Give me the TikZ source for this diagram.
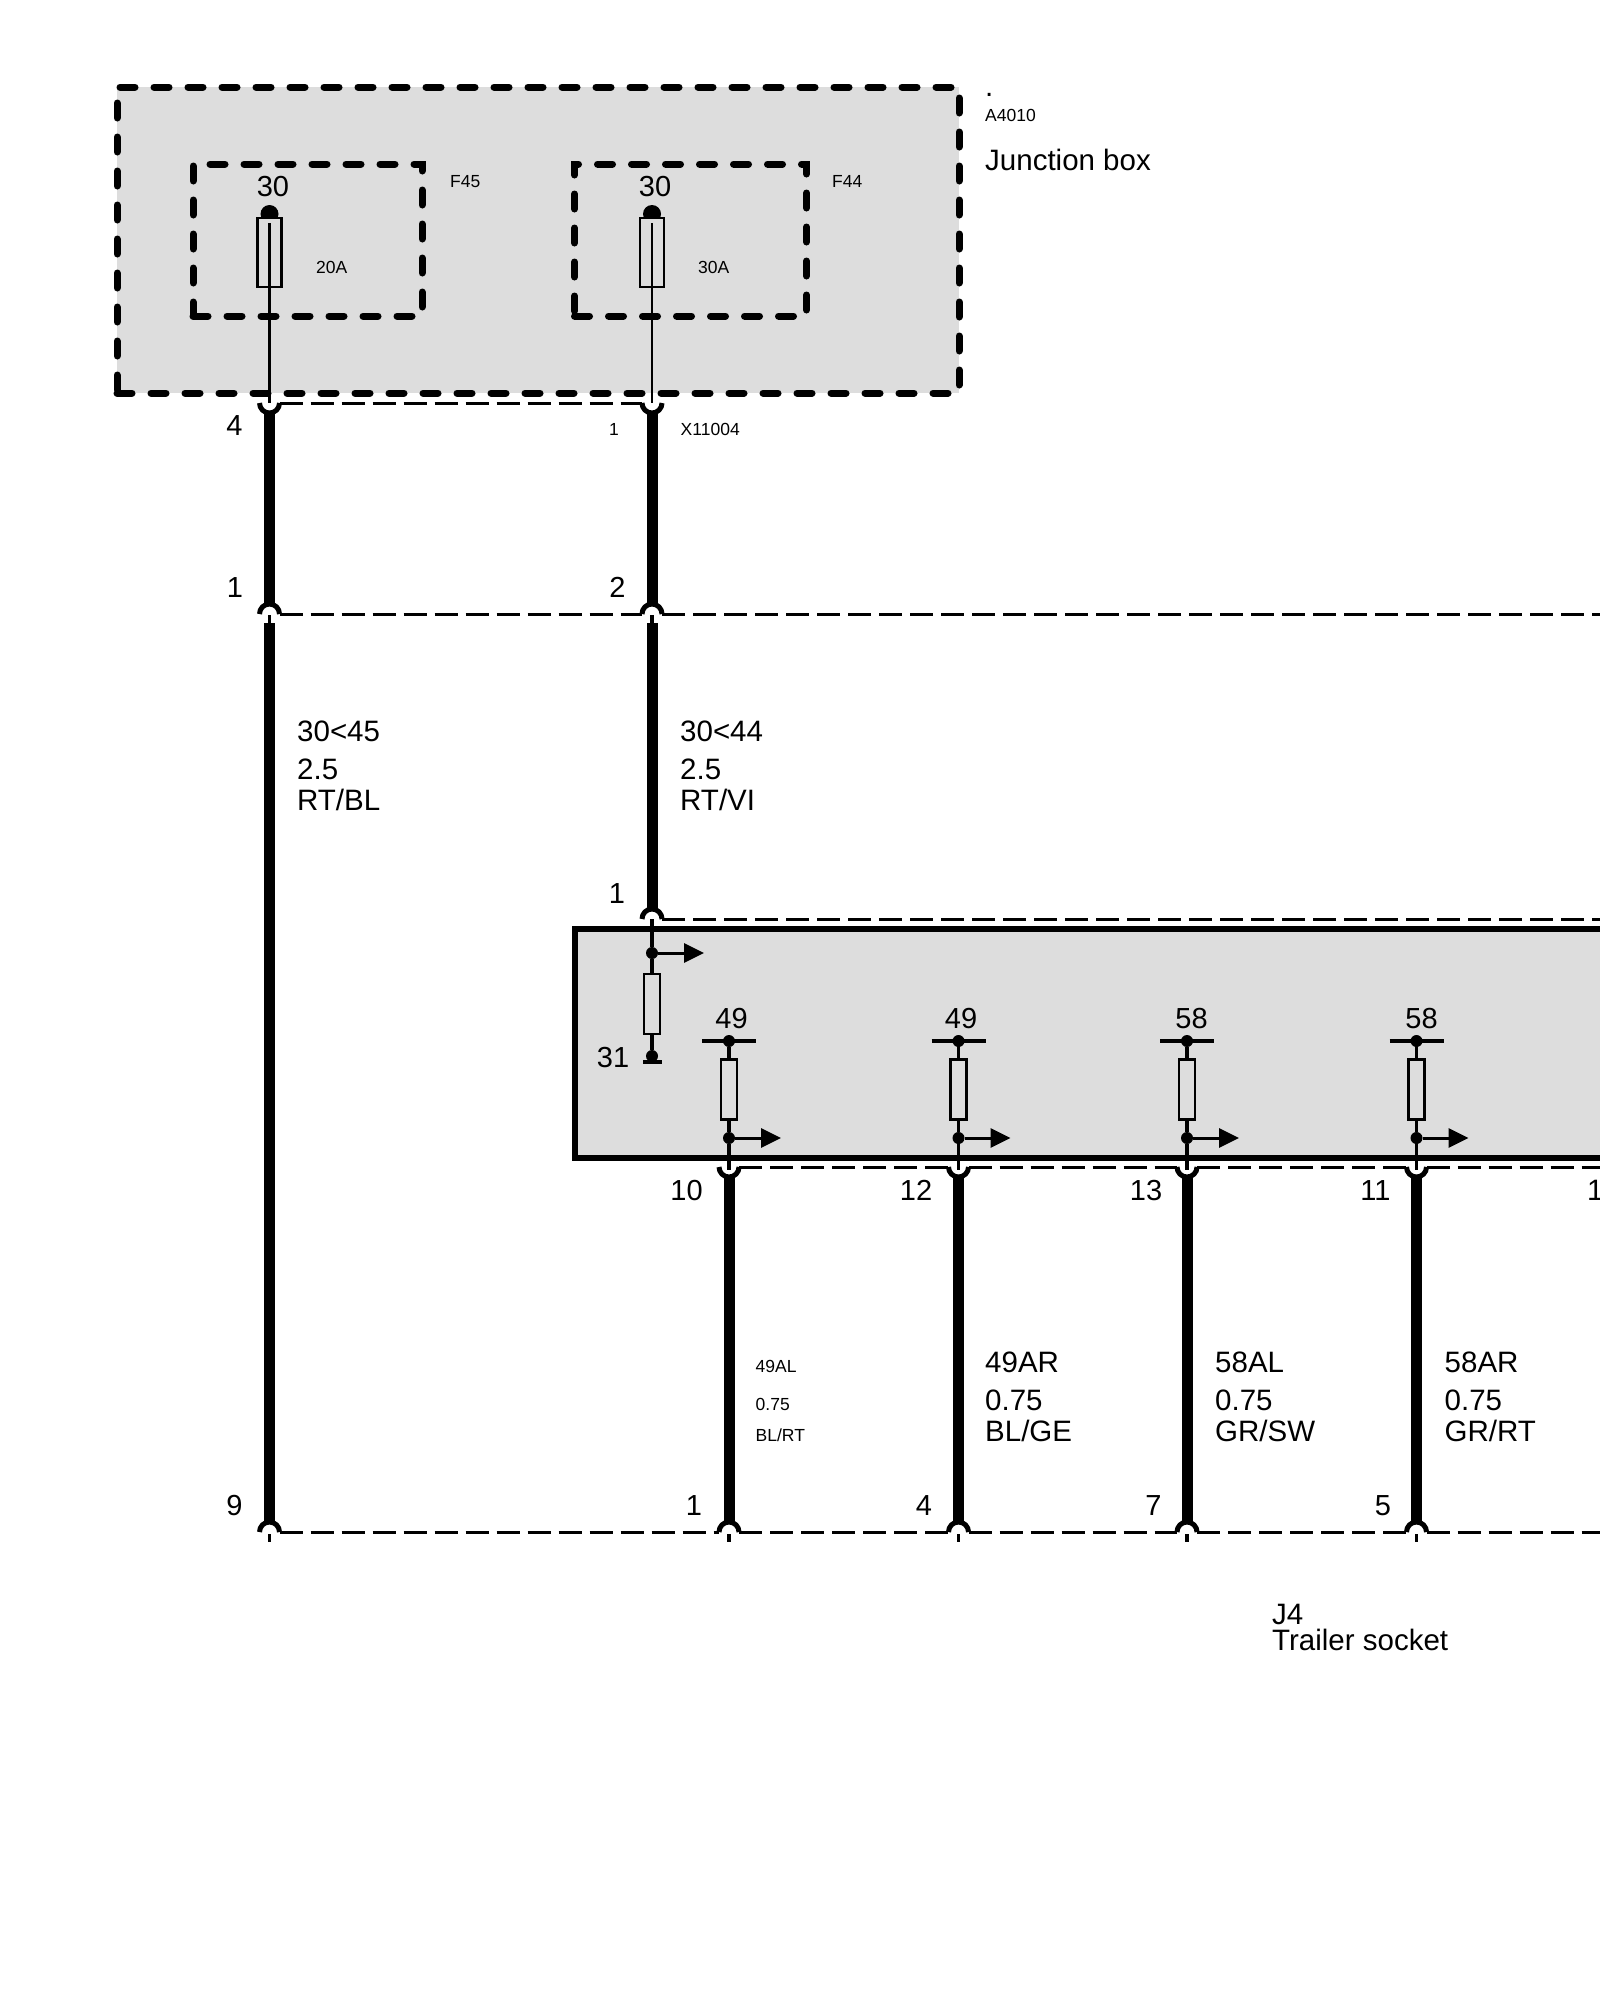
\documentclass[tikz,border=0pt]{standalone}
\usepackage{fontspec}
\setmainfont{Liberation Sans}
\usetikzlibrary{arrows.meta}
\definecolor{boxgray}{HTML}{DDDDDD}
\tikzset{
  cup/.pic={\draw[line width=5pt] (-10pt,0pt) arc[start angle=180,end angle=360,radius=10pt];},
  arch/.pic={\draw[line width=5pt] (-10pt,0pt) arc[start angle=180,end angle=0,radius=10pt];}
}

\begin{document}
\begin{tikzpicture}[x=1pt,y=-1pt]
    \tikzstyle{dashbox}=[draw, line width=7pt, fill=boxgray, dash pattern=on 15pt off 19pt, line cap=round, inner sep=0, outer sep=0]
    \tikzstyle{fusebox}=[draw, line width=7pt, dash pattern=on 15pt off 19pt, line cap=round, inner sep=0, outer sep=0]
    \tikzstyle{module}=[draw, line width=6pt, fill=boxgray, inner sep=0, outer sep=0]
    \tikzstyle{fuse}=[draw, line width=2.4pt, fill=boxgray, minimum width=24pt, minimum height=69pt, inner sep=0, outer sep=0]
    \tikzstyle{res}=[draw, line width=2.6pt, minimum width=16pt, minimum height=60pt, inner sep=0, outer sep=0]
    \tikzstyle{dot}=[circle, fill=black, minimum size=12pt, inner sep=0, outer sep=0]
    \tikzstyle{fusecap}=[circle, fill=black, minimum size=18pt, inner sep=0, outer sep=0]
    \tikzstyle{wire}=[line width=11pt]
    \tikzstyle{lead}=[line width=2.5pt]
    \tikzstyle{pinlead}=[line width=3.2pt]
    \tikzstyle{plug}=[line width=3pt, dash pattern=on 23pt off 8pt]
    \tikzstyle{outarrow}=[line width=3pt, -{Triangle[length=20pt,width=19pt]}]
    \tikzstyle{big}=[font=\fontsize{29.5}{29.5}\selectfont, inner sep=0, anchor=base west]
    \tikzstyle{small}=[font=\fontsize{17.5}{17.5}\selectfont, inner sep=0, anchor=base west]
    \tikzstyle{num}=[font=\fontsize{29}{29}\selectfont, inner sep=0, anchor=base]
    \tikzstyle{smallnum}=[font=\fontsize{17.5}{17.5}\selectfont, inner sep=0, anchor=base]

    \useasboundingbox (0,0) rectangle (1600,2000);

    % boxes
    \node[dashbox, minimum width=842pt, minimum height=306pt] (a4010) at (538,240) {};
    \node[fusebox, minimum width=229pt, minimum height=152pt] (boxf45) at (307.5,240) {};
    \node[fusebox, minimum width=232pt, minimum height=152pt] (boxf44) at (690.5,240) {};
    \node[module, minimum width=1045pt, minimum height=229pt] (ecu) at (1097.5,1043.5) {};

    % pins
    \coordinate (p4) at (269.5,403);
    \coordinate (p1) at (652,403);
    \coordinate (q1) at (269.5,614);
    \coordinate (q2) at (652,614);
    \coordinate (qend) at (1600,614);
    \coordinate (m1) at (652,919);
    \coordinate (mend) at (1600,919);
    \coordinate (p10) at (729,1167);
    \coordinate (p12) at (958.5,1167);
    \coordinate (p13) at (1187,1167);
    \coordinate (p11) at (1416.5,1167);
    \coordinate (pend) at (1600,1167);
    \coordinate (j9) at (269.5,1532);
    \coordinate (j1) at (729,1532);
    \coordinate (j4) at (958.5,1532);
    \coordinate (j7) at (1187,1532);
    \coordinate (j5) at (1416.5,1532);
    \coordinate (jend) at (1600,1532);

    % fuses
    \node[fusecap] (c45) at (269.5,214) {};
    \node[fusecap] (c44) at (652,214) {};
    \node[fuse] (f45) at (269.5,252.5) {};
    \node[fuse] (f44) at (652,252.5) {};
    \draw[lead] (c45) -- (p4);
    \draw[lead] (c44) -- (p1);

    % module inside
    \node[dot] (d1) at (652,953) {};
    \node[res] (r1) at (652,1004) {};
    \node[dot] (g1) at (652,1056) {};
    \coordinate (o1) at (704,953);
    \draw[pinlead] (m1) -- (d1) -- (r1.north);
    \draw[pinlead] (r1.south) -- (g1);
    \draw[pinlead] ([xshift=-9pt,yshift=-6pt]g1.center) -- ([xshift=10pt,yshift=-6pt]g1.center);
    \draw[outarrow] (d1) -- (o1);

    \node[dot] (t10) at (729,1041) {};
    \node[res] (r10) at (729,1089.5) {};
    \node[dot] (d10) at (729,1138) {};
    \coordinate (o10) at (781,1138);
    \draw[pinlead] ([xshift=-27pt]t10.center) -- ([xshift=27pt]t10.center);
    \draw[pinlead] (t10) -- (r10.north);
    \draw[pinlead] (r10.south) -- (d10) -- ([yshift=-3pt]p10);
    \draw[outarrow] (d10) -- (o10);

    \node[dot] (t12) at (958.5,1041) {};
    \node[res] (r12) at (958.5,1089.5) {};
    \node[dot] (d12) at (958.5,1138) {};
    \coordinate (o12) at (1010.5,1138);
    \draw[pinlead] ([xshift=-27pt]t12.center) -- ([xshift=27pt]t12.center);
    \draw[pinlead] (t12) -- (r12.north);
    \draw[pinlead] (r12.south) -- (d12) -- ([yshift=-3pt]p12);
    \draw[outarrow] (d12) -- (o12);

    \node[dot] (t13) at (1187,1041) {};
    \node[res] (r13) at (1187,1089.5) {};
    \node[dot] (d13) at (1187,1138) {};
    \coordinate (o13) at (1239,1138);
    \draw[pinlead] ([xshift=-27pt]t13.center) -- ([xshift=27pt]t13.center);
    \draw[pinlead] (t13) -- (r13.north);
    \draw[pinlead] (r13.south) -- (d13) -- ([yshift=-3pt]p13);
    \draw[outarrow] (d13) -- (o13);

    \node[dot] (t11) at (1416.5,1041) {};
    \node[res] (r11) at (1416.5,1089.5) {};
    \node[dot] (d11) at (1416.5,1138) {};
    \coordinate (o11) at (1468.5,1138);
    \draw[pinlead] ([xshift=-27pt]t11.center) -- ([xshift=27pt]t11.center);
    \draw[pinlead] (t11) -- (r11.north);
    \draw[pinlead] (r11.south) -- (d11) -- ([yshift=-3pt]p11);
    \draw[outarrow] (d11) -- (o11);

    % plugs
    \pic at (p4) {cup};
    \pic at (p1) {cup};
    \pic at (q1) {arch};
    \pic at (q2) {arch};
    \pic at (m1) {arch};
    \pic at (p10) {cup};
    \pic at (p12) {cup};
    \pic at (p13) {cup};
    \pic at (p11) {cup};
    \pic at (j9) {arch};
    \pic at (j1) {arch};
    \pic at (j4) {arch};
    \pic at (j7) {arch};
    \pic at (j5) {arch};
    \draw[plug] ([xshift=10pt]p4) -- ([xshift=-10pt]p1);
    \draw[plug] ([xshift=10pt]q1) -- ([xshift=-10pt]q2);
    \draw[plug] ([xshift=10pt]q2) -- (qend);
    \draw[plug] ([xshift=10pt]m1) -- (mend);
    \draw[plug] ([xshift=10pt]p10) -- ([xshift=-10pt]p12);
    \draw[plug] ([xshift=10pt]p12) -- ([xshift=-10pt]p13);
    \draw[plug] ([xshift=10pt]p13) -- ([xshift=-10pt]p11);
    \draw[plug] ([xshift=10pt]p11) -- (pend);
    \draw[plug] ([xshift=10pt]j9) -- ([xshift=-10pt]j1);
    \draw[plug] ([xshift=10pt]j1) -- ([xshift=-10pt]j4);
    \draw[plug] ([xshift=10pt]j4) -- ([xshift=-10pt]j7);
    \draw[plug] ([xshift=10pt]j7) -- ([xshift=-10pt]j5);
    \draw[plug] ([xshift=10pt]j5) -- (jend);

    % wires
    \draw[wire] ([yshift=-9pt]p4) -- ([yshift=9pt]q1);
    \draw[wire] ([yshift=-9pt]p1) -- ([yshift=9pt]q2);
    \draw[pinlead] ([yshift=-1pt]q1) -- ([yshift=-10pt]q1);
    \draw[pinlead] ([yshift=-1pt]q2) -- ([yshift=-10pt]q2);
    \draw[wire] ([yshift=-9pt]q1) -- ([yshift=9pt]j9);
    \draw[wire] ([yshift=-9pt]q2) -- ([yshift=9pt]m1);
    \draw[wire] ([yshift=-9pt]p10) -- ([yshift=9pt]j1);
    \draw[wire] ([yshift=-9pt]p12) -- ([yshift=9pt]j4);
    \draw[wire] ([yshift=-9pt]p13) -- ([yshift=9pt]j7);
    \draw[wire] ([yshift=-9pt]p11) -- ([yshift=9pt]j5);
    \draw[pinlead] ([yshift=-2pt]j9) -- ([yshift=-10pt]j9);
    \draw[pinlead] ([yshift=-2pt]j1) -- ([yshift=-10pt]j1);
    \draw[pinlead] ([yshift=-2pt]j4) -- ([yshift=-10pt]j4);
    \draw[pinlead] ([yshift=-2pt]j7) -- ([yshift=-10pt]j7);
    \draw[pinlead] ([yshift=-2pt]j5) -- ([yshift=-10pt]j5);

    % texts
    \node[big] (tdot) at (985,96) {.};
    \node[small] (ta4010) at (985,121) {A4010};
    \node[big] (tjunction) at (985,170) {Junction box};
    \node[small] (tf45) at (450,187) {F45};
    \node[small] (tf44) at (832,187) {F44};
    \node[num] (t30a) at (273,196) {30};
    \node[num] (t30b) at (655,196) {30};
    \node[small] (t20a) at (316,273) {20A};
    \node[small] (t30c) at (698,273) {30A};
    \node[num] (n4) at (234.5,435) {4};
    \node[smallnum] (n1) at (614,435) {1};
    \node[small] (tx) at (680.5,435) {X11004};
    \node[num] (n1b) at (235,597) {1};
    \node[num] (n2) at (617.5,597) {2};
    \node[big] (w45a) at (297,741) {30<45};
    \node[big] (w45b) at (297,779) {2.5};
    \node[big] (w45c) at (297,810) {RT/BL};
    \node[big] (w44a) at (680,741) {30<44};
    \node[big] (w44b) at (680,779) {2.5};
    \node[big] (w44c) at (680,810) {RT/VI};
    \node[num] (n1c) at (617,903) {1};
    \node[num] (n31) at (613,1067) {31};
    \node[num] (n49a) at (731.5,1028) {49};
    \node[num] (n49b) at (961,1028) {49};
    \node[num] (n58a) at (1191.5,1028) {58};
    \node[num] (n58b) at (1421.5,1028) {58};
    \node[num] (n10) at (686.5,1200) {10};
    \node[num] (n12) at (916,1200) {12};
    \node[num] (n13) at (1146,1200) {13};
    \node[num] (n11) at (1375.5,1200) {11};
    \node[big] (n1d) at (1587,1200) {1};
    \node[small] (w49la) at (755.5,1372) {49AL};
    \node[small] (w49lb) at (755.5,1410) {0.75};
    \node[small] (w49lc) at (755.5,1441) {BL/RT};
    \node[big] (w49ra) at (985,1372) {49AR};
    \node[big] (w49rb) at (985,1410) {0.75};
    \node[big] (w49rc) at (985,1441) {BL/GE};
    \node[big] (w58la) at (1215,1372) {58AL};
    \node[big] (w58lb) at (1215,1410) {0.75};
    \node[big] (w58lc) at (1215,1441) {GR/SW};
    \node[big] (w58ra) at (1444.5,1372) {58AR};
    \node[big] (w58rb) at (1444.5,1410) {0.75};
    \node[big] (w58rc) at (1444.5,1441) {GR/RT};
    \node[num] (n9) at (234.5,1515) {9};
    \node[num] (n1e) at (694,1515) {1};
    \node[num] (n4b) at (924,1515) {4};
    \node[num] (n7) at (1153.5,1515) {7};
    \node[num] (n5) at (1383,1515) {5};
    \node[big] (tj4) at (1272,1624) {J4};
    \node[big] (ttrailer) at (1272,1650) {Trailer socket};
\end{tikzpicture}
\end{document}
